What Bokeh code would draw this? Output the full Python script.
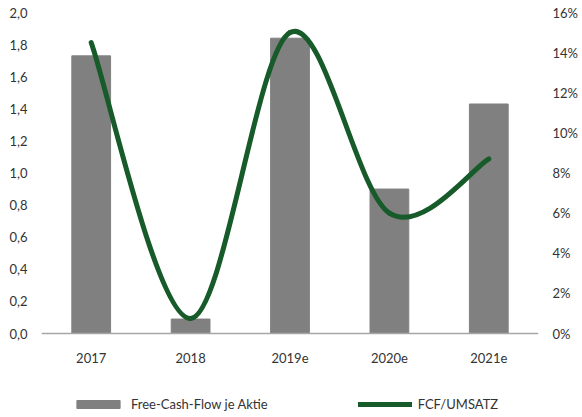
from bokeh.plotting import figure
from bokeh.models import (Range1d, LinearAxis, FixedTicker, Legend, LegendItem,
                          ColumnDataSource)
from bokeh.embed import file_html
from bokeh.resources import INLINE

# ---- data ----
categories = ["2017", "2018", "2019e", "2020e", "2021e"]
fcf_per_share = [1.73, 0.09, 1.84, 0.90, 1.43]
fcf_to_sales = [14.5, 0.75, 15.0, 6.0, 8.7]   # percent
left_ticks = [0.0, 0.2, 0.4, 0.6, 0.8, 1.0, 1.2, 1.4, 1.6, 1.8, 2.0]
right_ticks = [0, 2, 4, 6, 8, 10, 12, 14, 16]

FONT = "Lato"
TXT = "#333333"
BAR = "#808080"
GREEN = "#185b2a"

# layout: the value area is PLOT_H px tall; the frame continues below it
# to hold the category labels and the legend
PLOT_H = 321
FRAME_H = 401
Y_MAX, P_MAX = 2.0, 16.0
y_lo = -(FRAME_H - PLOT_H) / PLOT_H * Y_MAX
p_lo = -(FRAME_H - PLOT_H) / PLOT_H * P_MAX

xs = list(range(1, len(categories) + 1))

p = figure(frame_width=497, frame_height=FRAME_H, output_backend="svg",
           toolbar_location=None, x_axis_type=None, y_axis_type=None,
           x_range=Range1d(0.5, len(categories) + 0.5),
           y_range=Range1d(y_lo, Y_MAX),
           min_border_left=41, min_border_right=35, min_border_top=12,
           min_border_bottom=0)
p.extra_y_ranges = {"pct": Range1d(p_lo, P_MAX)}
p.outline_line_color = None
p.grid.visible = False

# bars
bars = p.vbar(x=xs, top=fcf_per_share, bottom=0, width=0.39, color=BAR)

# smooth line (Catmull-Rom style Bezier, as in spreadsheet "smoothed line")
n = len(xs)
P = list(zip(xs, fcf_to_sales))
seg = dict(x0=[], y0=[], x1=[], y1=[], cx0=[], cy0=[], cx1=[], cy1=[])
for i in range(n - 1):
    pm = P[i - 1] if i > 0 else P[i]
    p0 = P[i]
    p1 = P[i + 1]
    p2 = P[i + 2] if i + 2 < n else P[i + 1]
    seg["x0"].append(p0[0]); seg["y0"].append(p0[1])
    seg["x1"].append(p1[0]); seg["y1"].append(p1[1])
    seg["cx0"].append(p0[0] + (p1[0] - pm[0]) / 6)
    seg["cy0"].append(p0[1] + (p1[1] - pm[1]) / 6)
    seg["cx1"].append(p1[0] - (p2[0] - p0[0]) / 6)
    seg["cy1"].append(p1[1] - (p2[1] - p0[1]) / 6)
curve = p.bezier(x0="x0", y0="y0", x1="x1", y1="y1", cx0="cx0", cy0="cy0",
                 cx1="cx1", cy1="cy1", source=ColumnDataSource(seg),
                 line_color=GREEN, line_width=5, line_cap="round",
                 y_range_name="pct")

# axes
def style(ax):
    ax.major_tick_line_color = None
    ax.minor_tick_line_color = None
    ax.major_tick_out = 0
    ax.major_tick_in = 0
    ax.major_label_text_font = FONT
    ax.major_label_text_font_size = "13px"
    ax.major_label_text_color = TXT

left = LinearAxis(ticker=FixedTicker(ticks=left_ticks), axis_line_color=None,
                  major_label_standoff=14,
                  major_label_overrides={t: f"{t:.1f}".replace(".", ",") for t in left_ticks})
style(left)
p.add_layout(left, "left")

right = LinearAxis(y_range_name="pct", ticker=FixedTicker(ticks=right_ticks),
                   axis_line_color=None, major_label_standoff=14,
                   major_label_overrides={t: f"{t}%" for t in right_ticks})
style(right)
p.add_layout(right, "right")

bottom = LinearAxis(ticker=FixedTicker(ticks=xs), fixed_location=0,
                    axis_line_color="#a6a6a6", axis_line_width=1.5,
                    major_label_standoff=19,
                    major_label_overrides={x: c for x, c in zip(xs, categories)})
style(bottom)
p.add_layout(bottom, "below")

legend = Legend(items=[LegendItem(label="Free-Cash-Flow je Aktie", renderers=[bars]),
                       LegendItem(label="FCF/UMSATZ", renderers=[curve])],
                orientation="horizontal", location=(30, 1),
                glyph_width=54, glyph_height=10, spacing=90, label_standoff=6,
                label_text_font=FONT, label_text_font_size="13px",
                label_text_color=TXT, border_line_color=None,
                background_fill_alpha=0, margin=0, padding=0)
p.add_layout(legend, "center")

open("out.html", "w").write(file_html(p, INLINE))
